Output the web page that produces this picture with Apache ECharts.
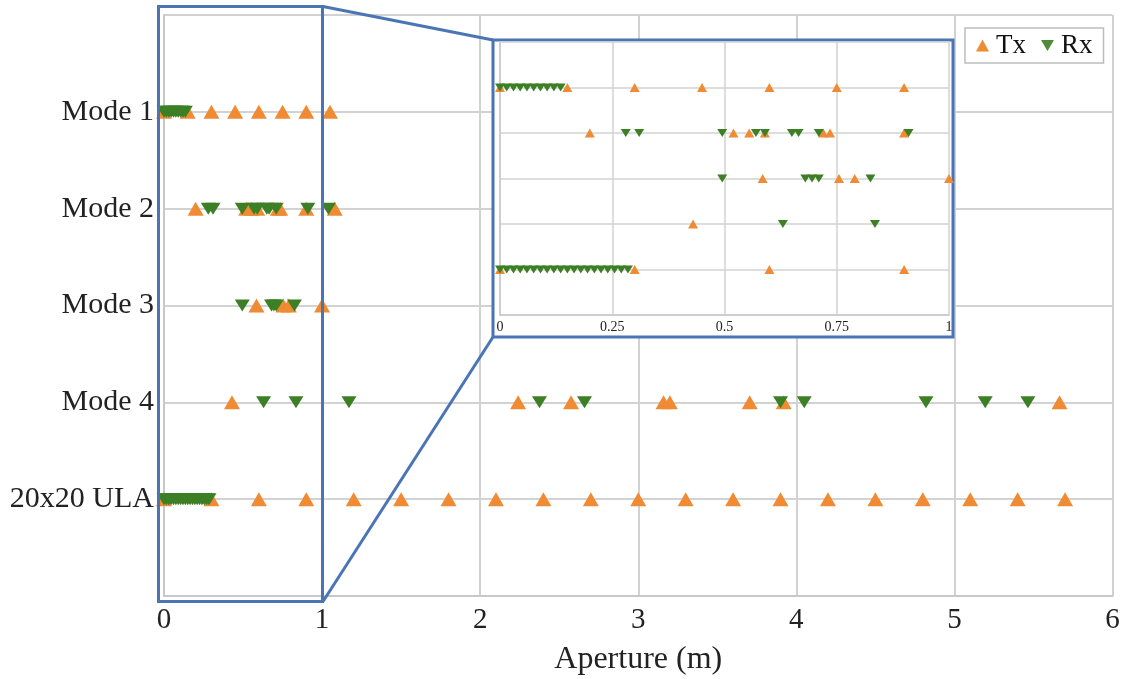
<!DOCTYPE html>
<html>
<head>
<meta charset="utf-8">
<script src="https://cdn.jsdelivr.net/npm/echarts@6/dist/echarts.min.js"></script>
<style>
html,body{margin:0;padding:0;background:#fff;}
#chart{width:1128px;height:679px;}
</style>
</head>
<body>
<div id="chart"></div>
<script>
// ---- data ----
const modeLabels = ['Mode 1', 'Mode 2', 'Mode 3', 'Mode 4', '20x20 ULA'];
const xTickLabels = ['0', '1', '2', '3', '4', '5', '6'];
const insetTickLabels = ['0', '0.25', '0.5', '0.75', '1'];

const mode1Tx = [0, 0.15, 0.3, 0.45, 0.6, 0.75, 0.9, 1.05];
const mode1Rx = [0, 0.015, 0.03, 0.045, 0.06, 0.075, 0.09, 0.105, 0.12, 0.135];
const mode2Tx = [0.2, 0.52, 0.555, 0.59, 0.72, 0.735, 0.9, 1.08];
const mode2Rx = [0.28, 0.31, 0.495, 0.57, 0.59, 0.65, 0.665, 0.71, 0.91, 1.04];
const mode3Tx = [0.585, 0.755, 0.79, 1.0];
const mode3Rx = [0.495, 0.68, 0.695, 0.71, 0.825];
const mode4Tx = [0.43, 2.24, 2.575, 3.16, 3.2, 3.705, 3.92, 5.665];
const mode4Rx = [0.63, 0.835, 1.17, 2.375, 2.66, 3.9, 4.05, 4.82, 5.195, 5.465];
const ulaTx = [0, 0.3, 0.6, 0.9, 1.2, 1.5, 1.8, 2.1, 2.4, 2.7, 3.0, 3.3, 3.6, 3.9, 4.2, 4.5, 4.8, 5.1, 5.4, 5.7];
const ulaRx = [0, 0.015, 0.03, 0.045, 0.06, 0.075, 0.09, 0.105, 0.12, 0.135, 0.15, 0.165, 0.18, 0.195, 0.21, 0.225, 0.24, 0.255, 0.27, 0.285];

// ---- build ----
const txRows = [mode1Tx, mode2Tx, mode3Tx, mode4Tx, ulaTx];
const rxRows = [mode1Rx, mode2Rx, mode3Rx, mode4Rx, ulaRx];
function toPoints(rows, maxX) {
  const out = [];
  rows.forEach((arr, i) => {
    const y = modeLabels.length - i;
    arr.forEach(x => { if (maxX === undefined || x <= maxX + 1e-9) out.push([x, y]); });
  });
  return out;
}
const TX_COLOR = '#F08A33';
const RX_COLOR = '#3C7F25';
const BLUE = '#4A75B5';
const GRID_COLOR = '#d2d2d2';
const FONT = 'Liberation Serif';
const downTri = 'path://M0,0L20,0L10,17Z';

const chart = echarts.init(document.getElementById('chart'));
const option = {
  backgroundColor: '#fff',
  animation: false,
  textStyle: { fontFamily: FONT },
  legend: {
    left: 965, top: 28,
    padding: [4, 11, 4, 11],
    itemGap: 15, itemWidth: 13, itemHeight: 12,
    borderColor: '#bdbdbd', borderWidth: 1.5,
    backgroundColor: '#fff',
    z: 100,
    textStyle: { fontFamily: FONT, fontSize: 27, color: '#111', padding: [0, 0, 0, 2] },
    data: [
      { name: 'Tx', icon: 'triangle', itemStyle: { color: TX_COLOR } },
      { name: 'Rx', icon: downTri, itemStyle: { color: '#4F8A3A' } }
    ]
  },
  grid: [
    { left: 164, right: 15.5, top: 15, bottom: 83, outerBoundsMode: 'none', containLabel: false },
    { left: 500, right: 179, top: 42, bottom: 364, z: 60, outerBoundsMode: 'none', containLabel: false }
  ],
  xAxis: [
    {
      gridIndex: 0, type: 'value', min: 0, max: 6, interval: 1,
      name: 'Aperture (m)', nameLocation: 'middle', nameGap: 48,
      nameTextStyle: { fontFamily: FONT, fontSize: 32, color: '#222' },
      axisLine: { show: true, lineStyle: { color: '#c8c8c8', width: 2 } },
      axisTick: { show: false },
      axisLabel: { fontFamily: FONT, fontSize: 29, color: '#222', margin: 10,
        formatter: v => xTickLabels[Math.round(v)] },
      splitLine: { show: true, lineStyle: { color: GRID_COLOR, width: 2 } }
    },
    {
      gridIndex: 1, type: 'value', min: 0, max: 1, interval: 0.25, z: 60,
      axisLine: { show: true, lineStyle: { color: '#c8c8c8', width: 1.5 } },
      axisTick: { show: false },
      axisLabel: { fontFamily: FONT, fontSize: 14, color: '#222', margin: 5,
        formatter: v => insetTickLabels[Math.round(v * 4)] },
      splitLine: { show: true, lineStyle: { color: GRID_COLOR, width: 1.5 } }
    }
  ],
  yAxis: [
    {
      gridIndex: 0, type: 'value', min: 0, max: 6, interval: 1,
      axisLine: { show: true, lineStyle: { color: '#c8c8c8', width: 2 } },
      axisTick: { show: false },
      axisLabel: { fontFamily: FONT, fontSize: 30, color: '#222', margin: 10,
        padding: [7, 0, 0, 0],
        formatter: v => (v >= 1 && v <= 5) ? modeLabels[5 - v] : '' },
      splitLine: { show: true, lineStyle: { color: GRID_COLOR, width: 2 } }
    },
    {
      gridIndex: 1, type: 'value', min: 0, max: 6, interval: 1, z: 60,
      axisLine: { show: true, lineStyle: { color: '#c8c8c8', width: 1.5 } },
      axisTick: { show: false },
      axisLabel: { show: false },
      splitLine: { show: true, lineStyle: { color: GRID_COLOR, width: 1.5 } }
    }
  ],
  graphic: [
    { type: 'rect', z: 40, shape: { x: 158.5, y: 6.5, width: 164, height: 595 },
      style: { fill: null, stroke: BLUE, lineWidth: 3 } },
    { type: 'line', z: 40, shape: { x1: 323, y1: 6.5, x2: 493, y2: 40 },
      style: { stroke: BLUE, lineWidth: 3 } },
    { type: 'line', z: 40, shape: { x1: 323, y1: 601.5, x2: 493, y2: 337 },
      style: { stroke: BLUE, lineWidth: 3 } },
    { type: 'rect', z: 50, shape: { x: 493, y: 40, width: 460, height: 297 },
      style: { fill: '#fff', stroke: BLUE, lineWidth: 3 } }
  ],
  series: [
    { name: 'Tx', type: 'scatter', xAxisIndex: 0, yAxisIndex: 0, clip: false,
      symbol: 'triangle', symbolSize: [16, 14], itemStyle: { color: TX_COLOR, opacity: 1 },
      data: toPoints(txRows) },
    { name: 'Rx', type: 'scatter', xAxisIndex: 0, yAxisIndex: 0, clip: false,
      symbol: downTri, symbolSize: [15, 12], itemStyle: { color: RX_COLOR, opacity: 1 },
      data: toPoints(rxRows) },
    { name: 'Tx', type: 'scatter', xAxisIndex: 1, yAxisIndex: 1, clip: false, z: 70,
      symbol: 'triangle', symbolSize: [10, 9], itemStyle: { color: TX_COLOR, opacity: 1 },
      data: toPoints(txRows, 1) },
    { name: 'Rx', type: 'scatter', xAxisIndex: 1, yAxisIndex: 1, clip: false, z: 70,
      symbol: downTri, symbolSize: [10, 8], itemStyle: { color: RX_COLOR, opacity: 1 },
      data: toPoints(rxRows, 1) }
  ]
};
chart.setOption(option);
</script>
</body>
</html>
